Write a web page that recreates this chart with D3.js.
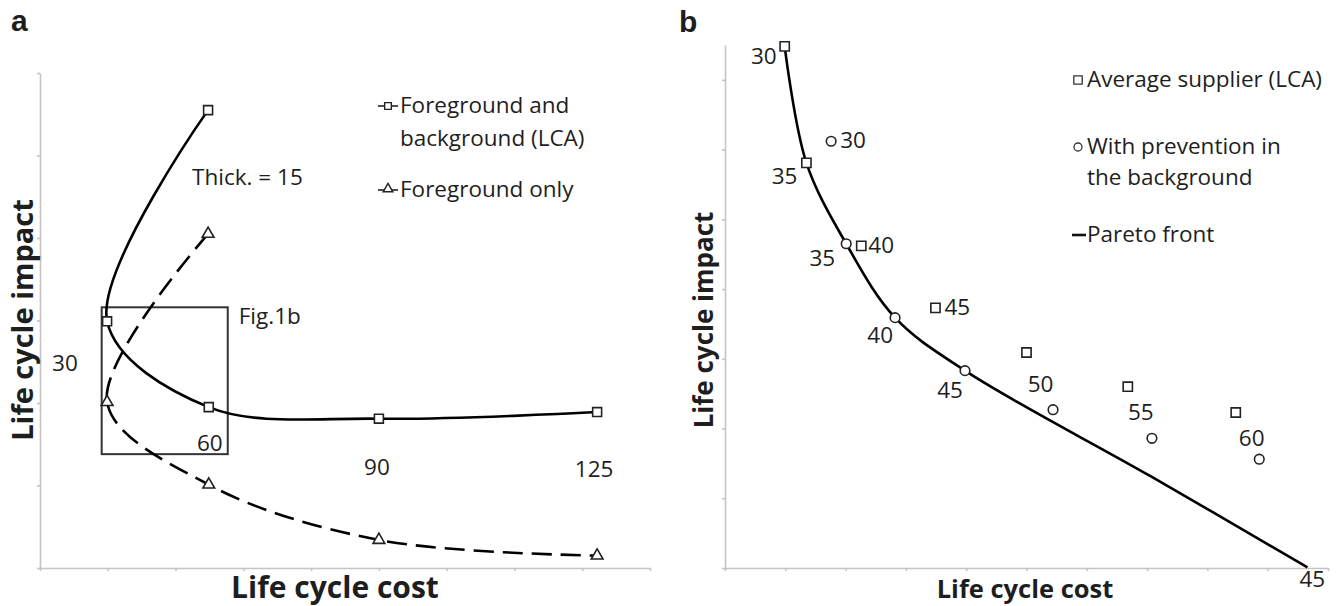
<!DOCTYPE html>
<html lang="en">
<head>
    <meta charset="UTF-8">
    <title>life-cycle-cost-vs-impact</title>
    <script src="https://d3js.org/d3.v7.min.js"></script>
    <style>
        body {
            margin: 0;
            background: #fff;
        }
        text {
            font-family: "Open Sans", "Noto Sans", sans-serif;
            fill: #1e1e1e;
        }
        .axis path, .axis line {
            stroke: #c4c4c4;
            stroke-width: 1.6;
        }
        .title {
            font-family: "Liberation Sans", Arial, sans-serif;
            font-weight: bold;
        }
        .axis-label {
            font-weight: bold;
        }
    </style>
</head>
<body>
<svg class="chart"></svg>
<script>
    var width = 1338;
    var height = 606;
    var fs = '22.5px';

    // panel a : thickness values and the two series (cost, impact)
    var thickA = [15, 30, 60, 90, 125];
    var costA = [2.48, 0.99, 2.49, 5.0, 8.22];
    var impactLCA = [5.55, 2.99, 1.95, 1.81, 1.89];
    var impactFg = [4.05, 2.01, 1.01, 0.34, 0.15];
    var boxA = [0.91, 2.77, 1.38, 3.16]; // x0, x1, y0, y1 of "Fig.1b"

    // panel b : average supplier vs prevention in background
    var thickB = [30, 35, 40, 45, 50, 55, 60];
    var costAvg = [0.99, 1.35, 2.26, 3.49, 5.0, 6.68, 8.47];
    var impactAvg = [7.48, 5.81, 4.62, 3.73, 3.09, 2.6, 2.23];
    var costPrev = [1.76, 2.01, 2.82, 3.98, 5.44, 7.08, 8.86];
    var impactPrev = [6.12, 4.65, 3.59, 2.83, 2.27, 1.86, 1.56];
    var paretoCost = [0.99, 1.35, 2.01, 2.82, 3.98, 7.05, 9.66];
    var paretoImpact = [7.48, 5.81, 4.65, 3.59, 2.83, 1.32, 0.01];
    var paretoEndLabel = 45;

    var svg = d3.select('.chart')
        .attr('width', width)
        .attr('height', height);

    // scales
    var xa = d3.scaleLinear().domain([0, 9]).range([40, 650]);
    var ya = d3.scaleLinear().domain([0, 6]).range([568, 73]);
    var xb = d3.scaleLinear().domain([0, 10]).range([725, 1328]);
    var yb = d3.scaleLinear().domain([0, 7.5]).range([568, 45]);

    function drawAxes(x, y, nx, ny) {
        svg.append('g').attr('class', 'axis')
            .attr('transform', 'translate(0,' + y(0) + ')')
            .call(d3.axisBottom(x).tickValues(d3.range(nx + 1)).tickSize(3).tickSizeOuter(0).tickFormat(''));
        svg.append('g').attr('class', 'axis')
            .attr('transform', 'translate(' + x(0) + ',0)')
            .call(d3.axisLeft(y).tickValues(d3.range(ny + 1)).tickSize(3).tickSizeOuter(0).tickFormat(''));
    }
    drawAxes(xa, ya, 9, 6);
    drawAxes(xb, yb, 10, 7);

    var curve = d3.curveCatmullRom.alpha(0.5);

    function series(xs, ys) {
        return xs.map(function (d, i) { return [d, ys[i]]; });
    }

    // ---- panel a ----
    var lineA = d3.line().curve(curve)
        .x(function (d) { return xa(d[0]); })
        .y(function (d) { return ya(d[1]); });

    svg.append('rect')
        .attr('x', xa(boxA[0])).attr('y', ya(boxA[3]))
        .attr('width', xa(boxA[1]) - xa(boxA[0]))
        .attr('height', ya(boxA[2]) - ya(boxA[3]))
        .attr('fill', 'none').attr('stroke', '#333').attr('stroke-width', 2);

    svg.append('path')
        .datum(series(costA, impactFg))
        .attr('d', lineA)
        .attr('fill', 'none').attr('stroke', '#000')
        .attr('stroke-width', 2.6).attr('stroke-dasharray', '20,9');

    svg.append('path')
        .datum(series(costA, impactLCA))
        .attr('d', lineA)
        .attr('fill', 'none').attr('stroke', '#000').attr('stroke-width', 2.6);

    var sq = d3.symbol().type(d3.symbolSquare);
    var tri = d3.symbol().type(d3.symbolTriangle);

    function markers(data, x, y, sym, size) {
        svg.append('g').selectAll('path')
            .data(data).enter().append('path')
            .attr('d', sym.size(size))
            .attr('transform', function (d) { return 'translate(' + x(d[0]) + ',' + y(d[1]) + ')'; })
            .attr('fill', '#fff').attr('stroke', '#222').attr('stroke-width', 1.6);
    }
    markers(series(costA, impactLCA), xa, ya, sq, 80);
    markers(series(costA, impactFg), xa, ya, tri, 60);

    // thickness labels (offsets from the square marker)
    var labA = [
        {dx: -16, dy: 75, anchor: 'start', pre: 'Thick. = '},
        {dx: -55, dy: 50, anchor: 'start', pre: ''},
        {dx: 1, dy: 44, anchor: 'middle', pre: ''},
        {dx: -2, dy: 56, anchor: 'middle', pre: ''},
        {dx: -3, dy: 65, anchor: 'middle', pre: ''}
    ];
    svg.append('g').selectAll('text')
        .data(thickA).enter().append('text')
        .attr('x', function (d, i) { return xa(costA[i]) + labA[i].dx; })
        .attr('y', function (d, i) { return ya(impactLCA[i]) + labA[i].dy; })
        .attr('text-anchor', function (d, i) { return labA[i].anchor; })
        .style('font-size', fs)
        .text(function (d, i) { return labA[i].pre + d; });

    svg.append('text').attr('x', xa(boxA[1]) + 11).attr('y', ya(boxA[3]) + 17)
        .style('font-size', fs).text('Fig.1b');

    // legend a
    var legA = svg.append('g');
    legA.append('line').attr('x1', 378).attr('x2', 398).attr('y1', 106).attr('y2', 106)
        .attr('stroke', '#222').attr('stroke-width', 1.6);
    legA.append('path').attr('d', sq.size(45)).attr('transform', 'translate(388,106)')
        .attr('fill', '#fff').attr('stroke', '#222').attr('stroke-width', 1.4);
    legA.append('text').attr('x', 400).attr('y', 113).style('font-size', fs).text('Foreground and');
    legA.append('text').attr('x', 400).attr('y', 146).style('font-size', fs).text('background (LCA)');
    legA.append('line').attr('x1', 378).attr('x2', 398).attr('y1', 190).attr('y2', 190)
        .attr('stroke', '#222').attr('stroke-width', 1.6);
    legA.append('path').attr('d', tri.size(40)).attr('transform', 'translate(388,189)')
        .attr('fill', '#fff').attr('stroke', '#222').attr('stroke-width', 1.4);
    legA.append('text').attr('x', 400).attr('y', 197).style('font-size', fs).text('Foreground only');

    // ---- panel b ----
    var lineB = d3.line().curve(curve)
        .x(function (d) { return xb(d[0]); })
        .y(function (d) { return yb(d[1]); });

    svg.append('path')
        .datum(series(paretoCost, paretoImpact))
        .attr('d', lineB)
        .attr('fill', 'none').attr('stroke', '#000').attr('stroke-width', 2.6);

    markers(series(costAvg, impactAvg), xb, yb, sq, 85);
    svg.append('g').selectAll('circle')
        .data(series(costPrev, impactPrev)).enter().append('circle')
        .attr('cx', function (d) { return xb(d[0]); })
        .attr('cy', function (d) { return yb(d[1]); })
        .attr('r', 4.8)
        .attr('fill', '#fff').attr('stroke', '#222').attr('stroke-width', 1.6);

    var labAvg = [
        {dx: -8, dy: 18, anchor: 'end'},
        {dx: -9, dy: 21, anchor: 'end'},
        {dx: 7, dy: 7, anchor: 'start'},
        {dx: 9, dy: 7, anchor: 'start'},
        {dx: 14, dy: 39, anchor: 'middle'},
        {dx: 13, dy: 33, anchor: 'middle'},
        {dx: 16, dy: 34, anchor: 'middle'}
    ];
    var labPrev = [
        {dx: 9, dy: 7, anchor: 'start'},
        {dx: -11, dy: 22, anchor: 'end'},
        {dx: -2, dy: 25, anchor: 'end'},
        {dx: -2, dy: 27, anchor: 'end'}
    ];
    svg.append('g').selectAll('text')
        .data(thickB).enter().append('text')
        .attr('x', function (d, i) { return xb(costAvg[i]) + labAvg[i].dx; })
        .attr('y', function (d, i) { return yb(impactAvg[i]) + labAvg[i].dy; })
        .attr('text-anchor', function (d, i) { return labAvg[i].anchor; })
        .style('font-size', fs)
        .text(function (d) { return d; });
    svg.append('g').selectAll('text')
        .data(thickB.slice(0, labPrev.length)).enter().append('text')
        .attr('x', function (d, i) { return xb(costPrev[i]) + labPrev[i].dx; })
        .attr('y', function (d, i) { return yb(impactPrev[i]) + labPrev[i].dy; })
        .attr('text-anchor', function (d, i) { return labPrev[i].anchor; })
        .style('font-size', fs)
        .text(function (d) { return d; });

    var last = paretoCost.length - 1;
    svg.append('text')
        .attr('x', xb(paretoCost[last]) - 8).attr('y', yb(paretoImpact[last]) + 20)
        .style('font-size', fs).text(paretoEndLabel);

    // legend b
    var legB = svg.append('g');
    legB.append('path').attr('d', sq.size(70)).attr('transform', 'translate(1078,80)')
        .attr('fill', '#fff').attr('stroke', '#333').attr('stroke-width', 1.3);
    legB.append('text').attr('x', 1087).attr('y', 87).style('font-size', fs).text('Average supplier (LCA)');
    legB.append('circle').attr('cx', 1078).attr('cy', 147).attr('r', 4)
        .attr('fill', '#fff').attr('stroke', '#333').attr('stroke-width', 1.3);
    legB.append('text').attr('x', 1087).attr('y', 154).style('font-size', fs).text('With prevention in');
    legB.append('text').attr('x', 1087).attr('y', 185).style('font-size', fs).text('the background');
    legB.append('line').attr('x1', 1072).attr('x2', 1086).attr('y1', 235).attr('y2', 235)
        .attr('stroke', '#111').attr('stroke-width', 2.6);
    legB.append('text').attr('x', 1087).attr('y', 242).style('font-size', fs).text('Pareto front');

    // titles and axis labels
    svg.append('text').attr('class', 'title').attr('x', 11).attr('y', 31).style('font-size', '30px').text('a');
    svg.append('text').attr('class', 'title').attr('x', 679).attr('y', 32).style('font-size', '30px').text('b');

    svg.append('text').attr('class', 'axis-label').attr('text-anchor', 'middle')
        .attr('x', 335).attr('y', 598).style('font-size', '30px').text('Life cycle cost');
    svg.append('text').attr('class', 'axis-label').attr('text-anchor', 'middle')
        .attr('x', 1025).attr('y', 598).style('font-size', '25.5px').text('Life cycle cost');
    svg.append('text').attr('class', 'axis-label').attr('text-anchor', 'middle')
        .attr('transform', 'translate(33,320) rotate(-90)')
        .style('font-size', '29px').text('Life cycle impact');
    svg.append('text').attr('class', 'axis-label').attr('text-anchor', 'middle')
        .attr('transform', 'translate(713,320) rotate(-90)')
        .style('font-size', '26px').text('Life cycle impact');
</script>
</body>
</html>
